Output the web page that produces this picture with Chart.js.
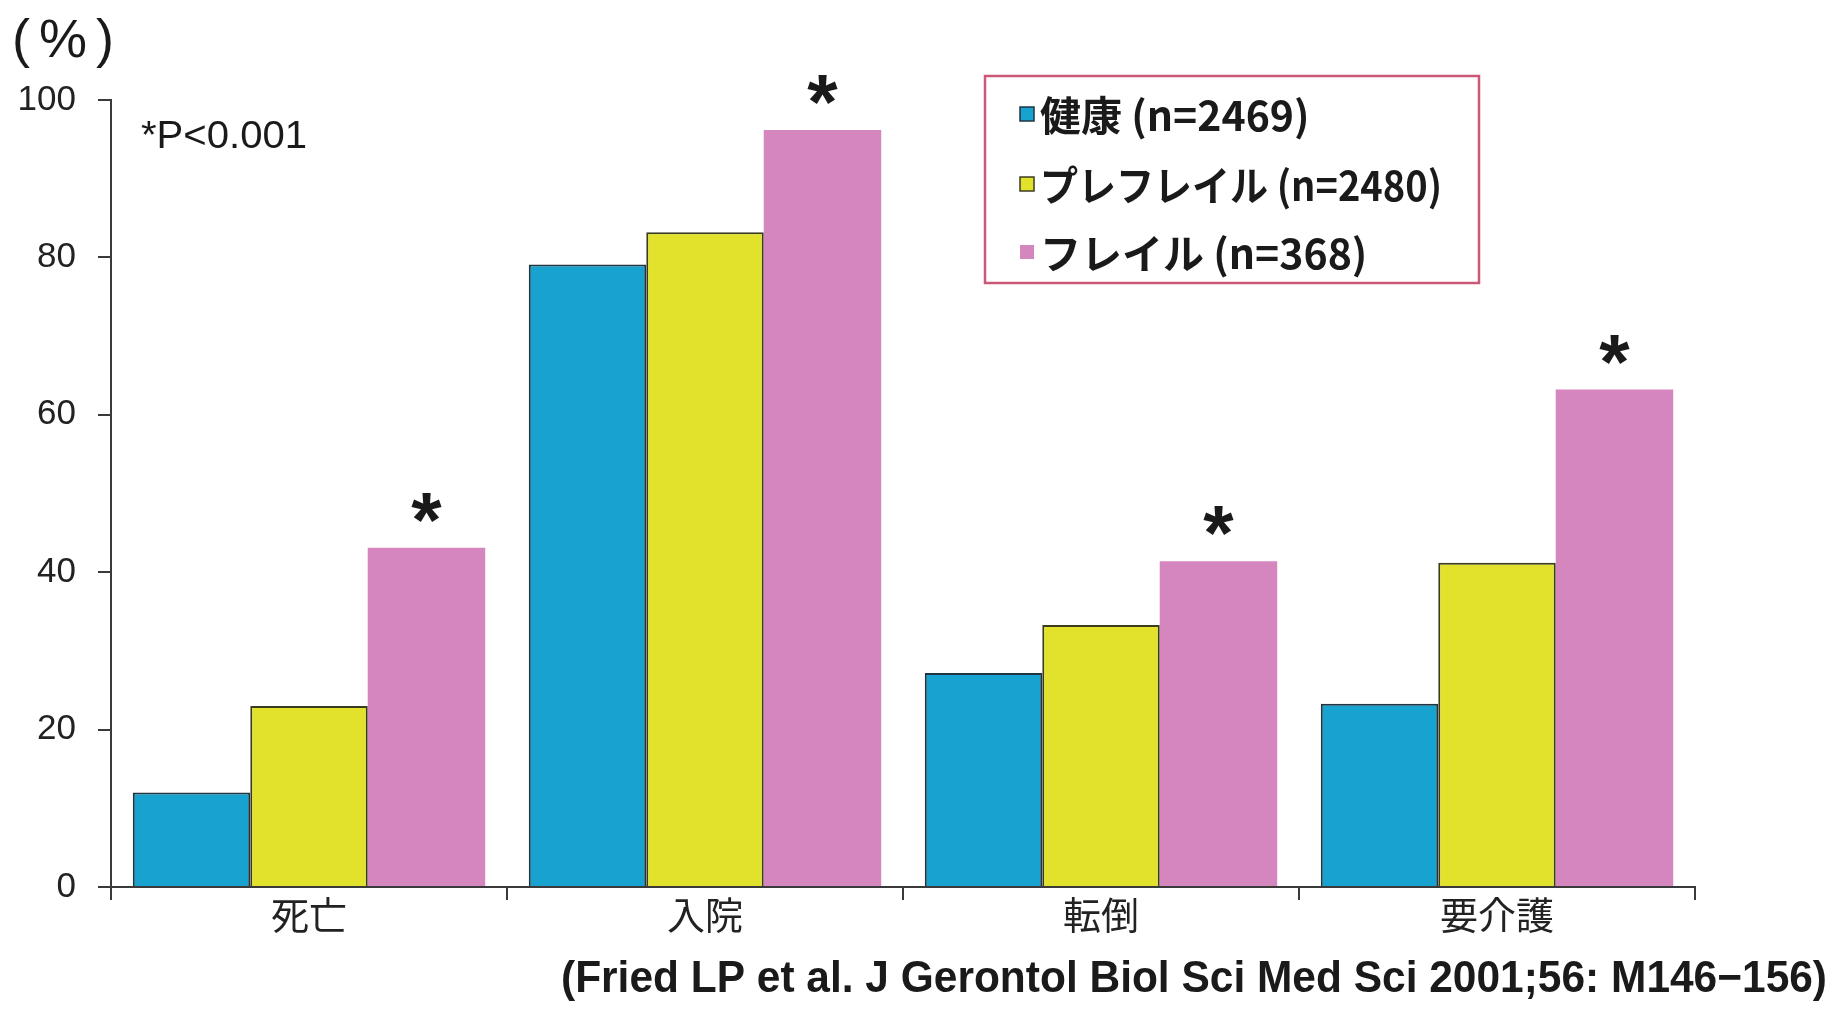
<!DOCTYPE html>
<html><head><meta charset="utf-8">
<script src="https://cdn.jsdelivr.net/npm/chart.js@4/dist/chart.umd.min.js"></script>
<style>html,body{margin:0;padding:0;background:#fff;}canvas{display:block;}</style>
</head><body>
<canvas id="c" width="1839" height="1013"></canvas>
<script>
// ---- data ----
const categories = ['死亡', '入院', '転倒', '要介護'];
const seriesNames = ['健康 (n=2469)', 'プレフレイル (n=2480)', 'フレイル (n=368)'];
const healthy  = [12.0, 79.1, 27.2, 23.3];
const prefrail = [23.0, 83.2, 33.3, 41.2];
const frail    = [43.1, 96.2, 41.4, 63.2];
const significant = [true, true, true, true];
const yTicks = [0, 20, 40, 60, 80, 100];
const yUnit = '(%)';
const pNote = '*P<0.001';
const citation = '(Fried LP et al. J Gerontol Biol Sci Med Sci 2001;56: M146−156)';

// ---- styles ----
const COLORS = ['#17a2cf', '#e2e12b', '#d586bf'];
const BORDERS = ['#1f3540', '#3b3b20', '#d586bf'];
const AXIS = '#3a3a3a';
const JP = '"Noto Sans CJK JP", sans-serif';
const LAT = '"Liberation Sans", Arial, sans-serif';

function fitText(ctx, text, x, y, targetW) {
  const w = ctx.measureText(text).width;
  ctx.save();
  ctx.translate(x, y);
  ctx.scale(targetW / w, 1);
  ctx.fillText(text, 0, 0);
  ctx.restore();
}

const annotate = {
  id: 'annotate',
  afterDraw(chart) {
    const ctx = chart.ctx;
    ctx.save();
    ctx.fillStyle = '#1a1a1a';
    // unit label
    ctx.font = '54px ' + LAT;
    ctx.letterSpacing = '9px';
    ctx.textAlign = 'left';
    ctx.textBaseline = 'middle';
    ctx.fillText(yUnit, 12, 42);
    ctx.letterSpacing = '0px';
    // p note
    ctx.font = '38px ' + LAT;
    ctx.textBaseline = 'alphabetic';
    fitText(ctx, pNote, 141, 148, 166);
    // asterisks over frail bars
    const meta = chart.getDatasetMeta(2);
    ctx.font = 'bold 78px ' + LAT;
    ctx.textAlign = 'center';
    meta.data.forEach((bar, i) => {
      if (!significant[i]) return;
      const m = ctx.measureText('*');
      const yc = bar.y - 40;
      const base = yc + (m.actualBoundingBoxAscent - m.actualBoundingBoxDescent) / 2;
      ctx.fillText('*', bar.x, base);
    });
    // legend
    const lx = 985, ly = 76, lw = 494, lh = 207;
    ctx.strokeStyle = '#cc5878';
    ctx.lineWidth = 2.5;
    ctx.strokeRect(lx, ly, lw, lh);
    const rows = [114, 184, 252];
    chart.data.datasets.forEach((ds, i) => {
      const y = rows[i];
      ctx.fillStyle = ds.backgroundColor;
      ctx.fillRect(1020, y - 7, 14, 14);
      if (i < 2) {
        ctx.strokeStyle = BORDERS[i];
        ctx.lineWidth = 1.5;
        ctx.strokeRect(1020, y - 7, 14, 14);
      }
      ctx.fillStyle = '#1a1a1a';
      ctx.font = 'bold 41px ' + JP;
      ctx.textAlign = 'left';
      ctx.textBaseline = 'middle';
      ctx.fillText(ds.label, 1040, y + 1, 402);
    });
    // citation
    ctx.font = 'bold 44px ' + LAT;
    ctx.textAlign = 'left';
    ctx.textBaseline = 'middle';
    fitText(ctx, citation, 561, 980, 1266);
    ctx.restore();
  }
};

new Chart(document.getElementById('c'), {
  type: 'bar',
  data: {
    labels: categories,
    datasets: [
      { label: seriesNames[0], data: healthy,  backgroundColor: COLORS[0], borderColor: BORDERS[0], borderWidth: 2 },
      { label: seriesNames[1], data: prefrail, backgroundColor: COLORS[1], borderColor: BORDERS[1], borderWidth: 2 },
      { label: seriesNames[2], data: frail,    backgroundColor: COLORS[2], borderWidth: 0 }
    ]
  },
  options: {
    responsive: false,
    animation: false,
    devicePixelRatio: 1,
    layout: { padding: { top: 100, right: 144, left: 0, bottom: 0 } },
    datasets: { bar: { categoryPercentage: 0.89, barPercentage: 1.0 } },
    plugins: { legend: { display: false }, tooltip: { enabled: false } },
    scales: {
      x: {
        grid: { display: true, drawOnChartArea: false, offset: true, tickLength: 13, color: AXIS, lineWidth: 2 },
        border: { color: AXIS, width: 2 },
        ticks: { font: { family: JP, size: 38 }, color: '#222', padding: -8 },
        afterFit(s) { s.height = 126; }
      },
      y: {
        min: 0, max: 100,
        afterBuildTicks(s) { s.ticks = yTicks.map(v => ({ value: v })); },
        grid: { display: true, drawOnChartArea: false, tickLength: 13, color: AXIS, lineWidth: 2 },
        border: { color: AXIS, width: 2 },
        ticks: { font: { family: LAT, size: 35 }, color: '#222', padding: 22 },
        afterFit(s) { s.width = 111; }
      }
    }
  },
  plugins: [annotate]
});
</script>
</body></html>
